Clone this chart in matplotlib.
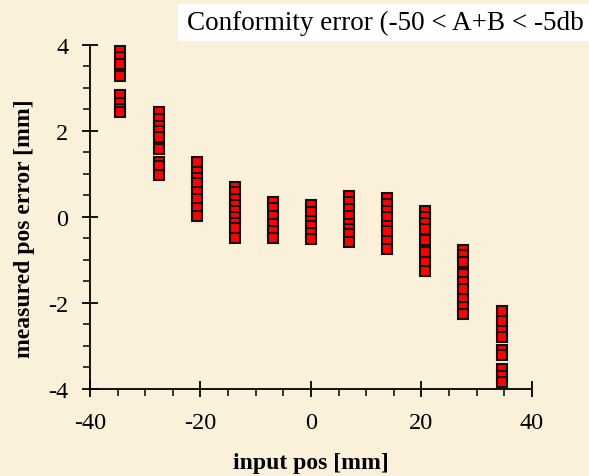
import matplotlib
matplotlib.use("Agg")
import matplotlib.pyplot as plt
from matplotlib.patches import Rectangle
from matplotlib.ticker import MultipleLocator

plt.rcParams["axes.unicode_minus"] = False

# ---- data ----
x_positions = [-34.5, -27.6, -20.7, -13.8, -6.9, 0.0, 6.9, 13.8, 20.7, 27.6, 34.5]
errors = [
    [3.85, 3.72, 3.55, 3.28, 2.83, 2.65, 2.5, 2.45],
    [2.43, 2.28, 2.12, 2.0, 1.86, 1.57, 1.29, 1.18, 0.97],
    [1.27, 1.05, 0.9, 0.78, 0.58, 0.42, 0.2, 0.03],
    [0.69, 0.57, 0.42, 0.28, 0.15, 0.0, -0.14, -0.26, -0.5],
    [0.34, 0.22, 0.03, -0.16, -0.33, -0.5],
    [0.28, 0.12, -0.1, -0.2, -0.38, -0.52],
    [0.49, 0.34, 0.19, 0.03, -0.16, -0.28, -0.4, -0.58],
    [0.45, 0.3, 0.15, 0.0, -0.21, -0.32, -0.55, -0.74],
    [0.13, 0.0, -0.14, -0.28, -0.53, -0.81, -1.05, -1.26],
    [-0.77, -0.88, -1.05, -1.33, -1.51, -1.67, -1.9, -2.09, -2.26],
    [-2.19, -2.43, -2.64, -2.78, -3.1, -3.22, -3.53, -3.69, -3.84],
]
x_ticks = [-40, -20, 0, 20, 40]
y_ticks = [-4, -2, 0, 2, 4]
title_text = "Conformity error (-50 < A+B < -5db"
x_label = "input pos [mm]"
y_label = "measured pos error [mm]"

bg = "#FBF0DA"
serif = ["Liberation Serif", "DejaVu Serif"]

fig = plt.figure(figsize=(5.89, 4.77), dpi=100, facecolor=bg)
ax = fig.add_axes([0.1528, 0.1824, 0.9032 - 0.1528, 0.9036 - 0.1824])
ax.set_facecolor("none")

xs, ys = [], []
for xp, col in zip(x_positions, errors):
    for v in col:
        xs.append(xp)
        ys.append(v)
ax.plot(xs, ys, linestyle="none", marker="s", markersize=7.6,
        markerfacecolor="#FF0000", markeredgecolor="#111111", markeredgewidth=1.5,
        clip_on=False, zorder=3)

ax.set_xlim(-40, 40)
ax.set_ylim(-4, 4)
ax.set_xticks(x_ticks)
ax.set_yticks(y_ticks)
ax.xaxis.set_minor_locator(MultipleLocator(5))
ax.yaxis.set_minor_locator(MultipleLocator(0.5))

for s in ["top", "right"]:
    ax.spines[s].set_visible(False)
for s in ["left", "bottom"]:
    ax.spines[s].set_linewidth(1.3)
    ax.spines[s].set_color("black")

ax.tick_params(which="major", direction="inout", length=11, width=1.3, color="black")
ax.tick_params(which="minor", direction="out", length=5, width=1.1, color="black")
ax.tick_params(axis="x", which="major", pad=11)
ax.tick_params(axis="y", which="major", pad=10)
for lab in ax.get_xticklabels() + ax.get_yticklabels():
    lab.set_fontfamily(serif)
    lab.set_fontsize(17.5)

ax.set_xlabel(x_label, fontfamily=serif, fontsize=17, fontweight="bold", labelpad=14)
ax.set_ylabel(y_label, fontfamily=serif, fontsize=17, fontweight="bold")
ax.yaxis.set_label_coords(-0.125, 0.47)

# title box (white rectangle, clipped by figure edge)
fig.patches.append(Rectangle((178 / 589, 1 - 42 / 477), 1 - 178 / 589, 37 / 477,
                             transform=fig.transFigure, facecolor="white",
                             edgecolor="none", zorder=1))
fig.text(187 / 589, 1 - 30 / 477, title_text, fontfamily=serif, fontsize=19.5,
         ha="left", va="baseline", zorder=2)

fig.savefig("out.png", dpi=100, facecolor=bg)
